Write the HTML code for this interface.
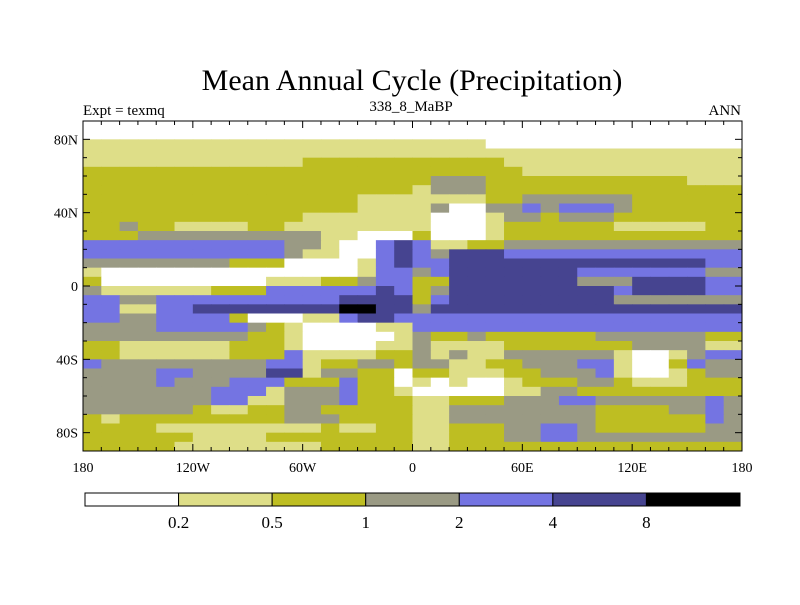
<!DOCTYPE html>
<html><head><meta charset="utf-8"><style>
body{margin:0;background:#fff;width:800px;height:600px;overflow:hidden}
svg text{font-family:"Liberation Serif",serif;fill:#000}
</style></head><body>
<svg id="chart" width="800" height="600">
<text x="412" y="90" font-size="30" text-anchor="middle">Mean Annual Cycle (Precipitation)</text>
<text x="83" y="115" font-size="15">Expt = texmq</text>
<text x="411" y="111" font-size="15" text-anchor="middle">338_8_MaBP</text>
<text x="741" y="115" font-size="15" text-anchor="end">ANN</text>
<g id="cells"></g>
<rect x="83" y="121" width="659" height="330" fill="none" stroke="#000" stroke-width="1"/>
<g id="axes"></g>
<g id="cbar"></g>
</svg>
<script>
const levelColors = ["#ffffff","#dede88","#bebe22","#9a9a84","#7474e2","#464490","#000000"];
const levelLabels = ["0.2","0.5","1","2","4","8"];
const lonTickLabels = ["180","120W","60W","0","60E","120E","180"];
const lonTickValues = [-180,-120,-60,0,60,120,180];
const latTickLabels = ["80N","40N","0","40S","80S"];
const latTickValues = [80,40,0,-40,-80];
// rows from 90N southward in 5-degree steps; columns from 180W eastward in 10-degree steps
const gridRows = [
"000000000000000000000000000000000000",
"000000000000000000000000000000000000",
"111111111111111111111100000000000000",
"111111111111111111111111111111111111",
"111111111111222222222221111111111111",
"222222222222222222222222111111111111",
"222222222222222222233322222222222111",
"222222222222222222133322222222222222",
"222222222222222111111122333333222222",
"222222222222222"+"1111"+"3"+"00"+"33"+"4"+"3"+"444"+"3"+"222222",
"222222222222"+"111111"+"1"+"000"+"1"+"33"+"2"+"333"+"2222222",
"22"+"3"+"22"+"1111"+"22"+"1111111"+"1"+"000"+"1"+"222222"+"11111"+"22",
"222"+"3333333333"+"11"+"000"+"2"+"000"+"1"+"2222222222222",
"44444444444"+"33"+"1"+"00"+"4"+"5"+"4"+"11"+"22"+"3333333333333",
"44444444444"+"3"+"11"+"00"+"4"+"5"+"4"+"3"+"555"+"4444444444444",
"33333333"+"222"+"0000"+"1"+"4"+"5"+"44"+"55555555555555"+"44",
"1"+"00000000000000"+"1"+"44"+"3"+"4"+"5555555"+"4444444"+"33",
"2"+"000000000"+"111"+"22"+"3"+"44"+"22"+"5555555"+"333"+"5555"+"44",
"3"+"111111"+"222"+"444444"+"5"+"4"+"2"+"3"+"555555555"+"4"+"5555"+"44",
"44"+"33"+"4444444444"+"5555"+"2"+"4"+"555555555"+"3333333",
"44"+"11"+"44"+"55555555"+"66"+"55"+"3"+"55555555555555555",
"44"+"33"+"4444"+"2"+"000"+"11"+"4"+"55"+"4"+"444444444444444444",
"3333"+"44444"+"3"+"2"+"1"+"0000"+"11"+"444444444444444444",
"333333333"+"22"+"1"+"00000"+"1"+"3"+"22"+"3"+"222222"+"333333"+"22",
"22"+"111111"+"222"+"1"+"0000"+"11"+"3"+"1111"+"2222222"+"3333"+"11",
"22"+"111111"+"222"+"4"+"1111"+"22"+"3"+"1"+"3"+"11"+"333333"+"1"+"00"+"1"+"3"+"44",
"4"+"333333333"+"44"+"1"+"22"+"33"+"2"+"33"+"11"+"22"+"333"+"44"+"1"+"00"+"2"+"4"+"33",
"3333"+"44"+"3333"+"55"+"1"+"33"+"22"+"0"+"22"+"111"+"22"+"333"+"4"+"1"+"00"+"1"+"2"+"33",
"3333"+"4"+"333"+"444"+"222"+"4"+"22"+"0"+"1"+"0"+"1"+"00"+"1"+"222"+"33"+"2"+"111"+"222",
"3333333"+"444"+"1"+"333"+"4"+"22"+"1"+"00000"+"11"+"33"+"222222222",
"3333333"+"44"+"11"+"333"+"4"+"222"+"11"+"222"+"333"+"44"+"333333"+"4"+"3",
"333333"+"2"+"11"+"22"+"33"+"22222"+"11"+"33333333"+"2222"+"33"+"4"+"3",
"2122222222"+"2"+"333"+"2222"+"11"+"33333333"+"222222"+"4"+"3",
"2222"+"111111111"+"2"+"11"+"22"+"11"+"222"+"33"+"44"+"3"+"222222"+"33",
"222222"+"1111"+"22222222"+"11"+"222"+"33"+"44"+"333333333",
"22222"+"11111111"+"22222"+"11"+"2222222222222222"
];
const NS="http://www.w3.org/2000/svg";
const X0=83,X1=742,Y0=121,Y1=451;
function xScale(lon){return X0+(lon+180)/360*(X1-X0);}
function yScale(lat){return Y0+(90-lat)/180*(Y1-Y0);}
function mk(tag,attrs,parent){const e=document.createElementNS(NS,tag);for(const k in attrs)e.setAttribute(k,attrs[k]);parent.appendChild(e);return e;}
const cells=document.getElementById('cells');
gridRows.forEach((row,j)=>{
  const latTop=90-5*j, latBot=85-5*j;
  for(let i=0;i<row.length;i++){
    const lonL=-180+10*i, lonR=lonL+10;
    const r=mk('rect',{x:xScale(lonL),y:yScale(latTop),width:xScale(lonR)-xScale(lonL)+0.5,height:yScale(latBot)-yScale(latTop)+0.5,fill:levelColors[+row[i]]},cells);
    
    
  }
});
const axes=document.getElementById('axes');
for(let lon=-180;lon<=180;lon+=10){
  const major=lon%60===0, len=major?7:4;
  mk('line',{x1:xScale(lon),x2:xScale(lon),y1:Y1,y2:Y1-len,stroke:'#000'},axes);
  mk('line',{x1:xScale(lon),x2:xScale(lon),y1:Y0,y2:Y0+len,stroke:'#000'},axes);
}
for(let lat=-90;lat<=90;lat+=10){
  const major=lat%40===0, len=major?7:4;
  mk('line',{x1:X0,x2:X0+len,y1:yScale(lat),y2:yScale(lat),stroke:'#000'},axes);
  mk('line',{x1:X1,x2:X1-len,y1:yScale(lat),y2:yScale(lat),stroke:'#000'},axes);
}
lonTickLabels.forEach((t,k)=>{
  const e=mk('text',{x:xScale(lonTickValues[k]),y:472,'font-size':14,'text-anchor':'middle'},axes);
  e.textContent=t;
  
  
});
latTickLabels.forEach((t,k)=>{
  const e=mk('text',{x:78,y:yScale(latTickValues[k])+5,'font-size':14,'text-anchor':'end'},axes);
  e.textContent=t;
  
  
});
const cbar=document.getElementById('cbar');
const CX0=85,CX1=740,CW=(CX1-CX0)/levelColors.length;
levelColors.forEach((c,k)=>{
  const r=mk('rect',{x:CX0+k*CW,y:493,width:CW,height:13,fill:c,stroke:'#000','stroke-width':1},cbar);
  
  
});
levelLabels.forEach((t,k)=>{
  const e=mk('text',{x:CX0+(k+1)*CW,y:528,'font-size':17,'text-anchor':'middle'},cbar);
  e.textContent=t;
  
  
});
</script>
</body></html>
